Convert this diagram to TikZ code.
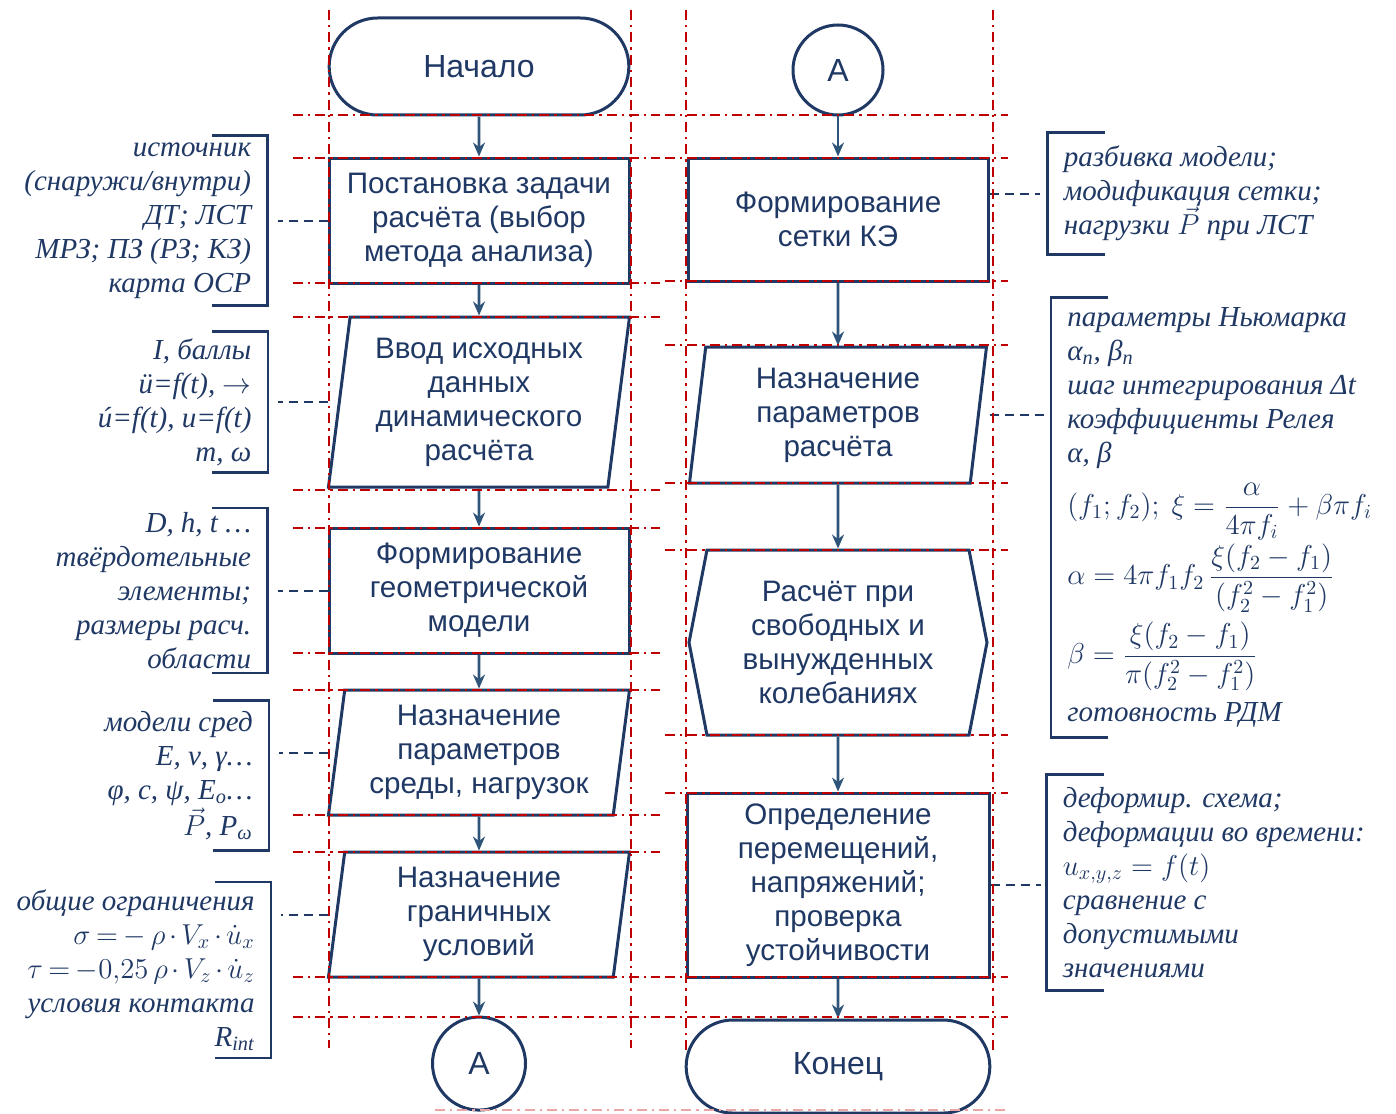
\documentclass[tikz,border=0pt]{standalone}
\usepackage{amsmath}
\usepackage{fontspec}
\setmainfont{Liberation Serif}
\setsansfont{Liberation Sans}
\usepackage{tikz}
\usetikzlibrary{shapes.geometric, shapes.misc, shapes.symbols, arrows.meta, positioning}
\definecolor{navy}{RGB}{31,56,100}
\definecolor{steel}{RGB}{46,84,122}
\definecolor{guidered}{RGB}{192,0,0}
\newcommand{\tightmath}{\medmuskip=2.5mu\thickmuskip=3.5mu}

\begin{document}
\begin{tikzpicture}[
    x=0.5pt, y=-0.5pt,
    node distance=20pt,
    terminal/.style={rounded rectangle, draw=navy, line width=1.5pt,
                     minimum width=156.5pt, minimum height=48.5pt, text=navy,
                     font=\sffamily\fontsize{16}{19}\selectfont},
    block/.style={rectangle, draw=navy, line width=1.5pt,
                  minimum width=150pt, minimum height=62.5pt, inner sep=2pt,
                  align=center, text=navy, font=\sffamily\fontsize{14.8}{17}\selectfont},
    iobox/.style={trapezium, trapezium left angle=81, trapezium right angle=99,
                  trapezium stretches body, draw=navy, line width=1.5pt,
                  minimum width=150.5pt, minimum height=62.5pt, inner sep=2pt,
                  align=center, text=navy, font=\sffamily\fontsize{14.8}{17}\selectfont},
    hexbox/.style={signal, signal to=west and east, signal pointer angle=158,
                   draw=navy, line width=1.5pt, minimum width=149pt, minimum height=92.5pt,
                   inner sep=2pt, align=center, text=navy,
                   font=\sffamily\fontsize{14.8}{17}\selectfont},
    joint/.style={circle, draw=navy, line width=1.5pt, minimum size=45pt, inner sep=0pt,
                  text=navy, font=\sffamily\fontsize{16}{19}\selectfont},
    note/.style={inner xsep=8pt, inner ysep=0pt, text=navy,
                 font=\fontsize{14.5}{17}\selectfont\itshape},
    bracket/.style={draw=navy, line width=1.2pt},
    link/.style={draw=navy, line width=1pt, dash pattern=on 4.5pt off 3pt},
    arrow/.style={-{Stealth[length=7pt, width=6pt]}, line width=1.3pt, draw=steel},
    guide/.style={draw=guidered, line width=1.1pt, dash pattern=on 5pt off 2.5pt on 1.2pt off 2.5pt}
]
    \useasboundingbox (0,0) rectangle (1396,1113);

    % left column
    \node[terminal] (start) at (479,66.5) {Начало};
    \node[block, below=20pt of start] (task) {Постановка задачи\\расчёта (выбор\\метода анализа)};
    \node[iobox, below=15.5pt of task, minimum height=85pt] (input) {Ввод исходных\\данных\\динамического\\расчёта};
    \node[block, below=19pt of input] (geom) {Формирование\\геометрической\\модели};
    \node[iobox, below=17pt of geom] (medium) {Назначение\\параметров\\среды, нагрузок};
    \node[iobox, below=17pt of medium] (bound) {Назначение\\граничных\\условий};
    \node[joint, below=18.5pt of bound, minimum size=46.5pt] (jointout) {А};

    % right column
    \node[joint] (jointin) at (838,70) {А};
    \node[block, below=20pt of jointin, minimum height=61.5pt] (mesh) {Формирование\\сетки КЭ};
    \node[iobox, below=31.5pt of mesh, minimum width=148.5pt, minimum height=68pt] (params) {Назначение\\параметров\\расчёта};
    \node[hexbox, below=32pt of params] (solve) {Расчёт при\\свободных и\\вынужденных\\колебаниях};
    \node[block, below=27.5pt of solve, minimum width=151pt, minimum height=92pt] (result) {Определение\\перемещений,\\напряжений;\\проверка\\устойчивости};
    \node[terminal, below=20pt of result, minimum width=158.5pt, minimum height=46.5pt] (finish) {Конец};

    \draw[arrow] (start) -- (task);
    \draw[arrow] (task) -- (input);
    \draw[arrow] (input) -- (geom);
    \draw[arrow] (geom) -- (medium);
    \draw[arrow] (medium) -- (bound);
    \draw[arrow] (bound) -- (jointout);
    \draw[arrow] (jointin) -- (mesh);
    \draw[arrow] (mesh) -- (params);
    \draw[arrow] (params) -- (solve);
    \draw[arrow] (solve) -- (result);
    \draw[arrow] (result) -- (finish);

    % notes on the left
    \node[note, align=right, minimum height=84.5pt, left=30pt of task] (srcnote)
        {источник\\(снаружи/внутри)\\ДТ; ЛСТ\\МРЗ; ПЗ (РЗ; КЗ)\\карта ОСР};
    \node[note, align=right, minimum height=70pt, left=35pt of input] (loadnote)
        {I, баллы\\ü=f(t), $\rightarrow$\\ú=f(t), u=f(t)\\m, ω};
    \node[note, align=right, minimum height=82pt, left=30pt of geom] (geomnote)
        {D, h, t …\\твёрдотельные\\элементы;\\размеры расч.\\области};
    \node[note, align=right, minimum height=74.5pt, left=33pt of medium, yshift=-11.5pt] (medianote)
        {модели сред\\E, ν, γ\ldots\\φ, c, ψ, E\textsubscript{o}\ldots\\[1pt]$\vec{P}$, P\textsubscript{ω}};
    \node[note, align=right, minimum height=87.5pt, left=32pt of bound, yshift=-27.75pt] (boundnote)
        {общие ограничения\\{\tightmath$\sigma = -\,\rho\cdot V_x\cdot\dot{u}_x$}\\
         {\tightmath$\tau = -0{,}25\,\rho\cdot V_z\cdot\dot{u}_z$}\\условия контакта\\R\textsubscript{int}};

    \foreach \n in {srcnote, loadnote, geomnote, medianote, boundnote}
        \draw[bracket] ([xshift=-28pt]\n.north east) -- (\n.north east)
            -- (\n.south east) -- ([xshift=-28pt]\n.south east);

    \draw[link, shorten >=5pt] (task.west) -- (task.west -| srcnote.east);
    \draw[link, shorten >=5pt] (input.west -| task.west) -- (input.west -| loadnote.east);
    \draw[link, shorten >=5pt] (geom.west) -- (geom.west -| geomnote.east);
    \draw[link, shorten >=5pt] (medium.west -| task.west) -- (medium.west -| medianote.east);
    \draw[link, shorten >=5pt] (bound.west -| task.west) -- (bound.west -| boundnote.east);

    % notes on the right
    \node[note, align=left, minimum height=60.5pt, right=29pt of mesh, yshift=13pt] (meshnote)
        {разбивка модели;\\модификация сетки;\\нагрузки $\vec{P}$ при ЛСТ};
    \node[note, align=left, minimum height=219.5pt, right=35.5pt of params, yshift=-51.25pt] (paramnote)
        {параметры Ньюмарка\\α\textsubscript{n}, β\textsubscript{n}\\шаг интегрирования Δt\\коэффициенты Релея\\α, β\\[6pt]
         $(f_1; f_2);\ \xi = \dfrac{\alpha}{4\pi f_i}+\beta\pi f_i$\\[1pt]
         $\alpha = 4\pi f_1 f_2\,\dfrac{\xi(f_2-f_1)}{(f_2^2-f_1^2)}$\\[4pt]
         $\beta = \dfrac{\xi(f_2-f_1)}{\pi(f_2^2-f_1^2)}$\\[5pt]готовность РДМ};
    \node[note, align=left, minimum height=107.5pt, right=28pt of result, yshift=1.25pt] (resnote)
        {деформир. схема;\\деформации во времени:\\$u_{x,y,z} = f(t)$\\сравнение с\\допустимыми\\значениями};

    \foreach \n in {meshnote, paramnote, resnote}
        \draw[bracket] ([xshift=28.5pt]\n.north west) -- (\n.north west)
            -- (\n.south west) -- ([xshift=28.5pt]\n.south west);

    \draw[link, shorten >=4pt] (meshnote.west -| mesh.east) -- (meshnote.west);
    \draw[link, shorten >=3pt] (params.east -| mesh.east) -- (params.east -| paramnote.west);
    \draw[link, shorten >=3pt] (result.east) -- (result.east -| resnote.west);

    % guide lines
    \foreach \y in {115,158,283,317,490,528,653,690,815,852,977,1017}
        \draw[guide] (293,\y) -- (660,\y);
    \foreach \y in {115,158,281,345,483,550,735,793,977,1017}
        \draw[guide] (665,\y) -- (1008,\y);
    \foreach \x in {329,631}
        \draw[guide] (\x,10) -- (\x,1048);
    \foreach \x in {686,993}
        \draw[guide] (\x,10) -- (\x,1050);
    \draw[guide, draw=guidered!35] (435,1110) -- (1010,1110);
\end{tikzpicture}
\end{document}
